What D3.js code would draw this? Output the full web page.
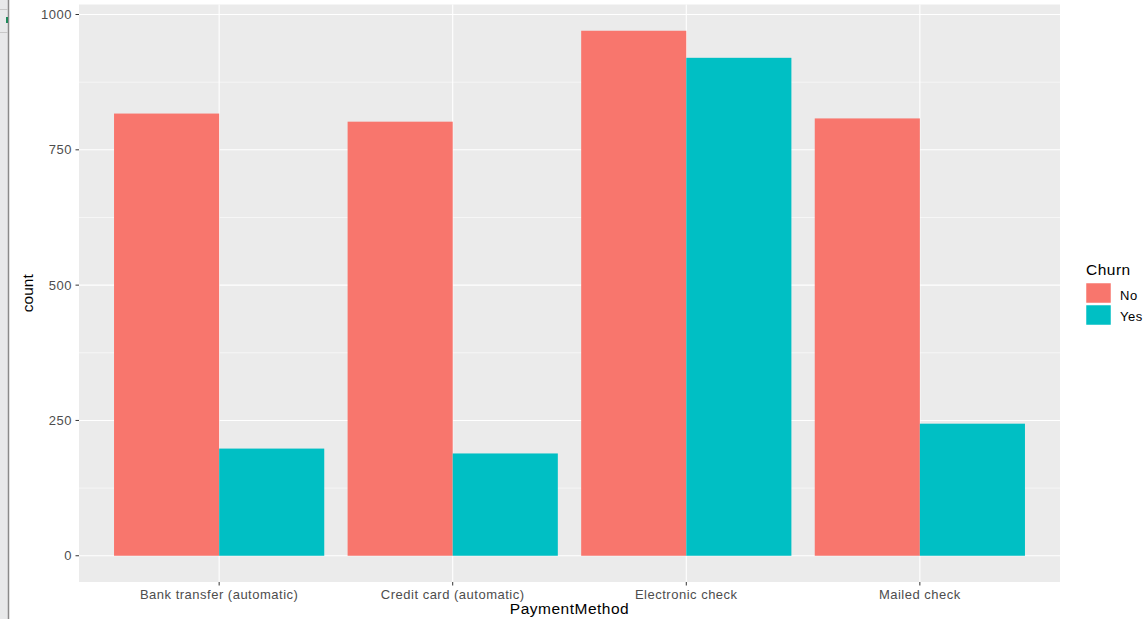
<!DOCTYPE html>
<html><head><meta charset="utf-8">
<script src="https://cdn.jsdelivr.net/npm/d3@7"></script>
<style>body{margin:0;background:#fff;}svg{display:block;font-family:"Liberation Sans",Arial,sans-serif;}</style>
</head><body>
<svg id="c" width="1147" height="619"></svg>
<script>
const categories = ["Bank transfer (automatic)", "Credit card (automatic)", "Electronic check", "Mailed check"];
const churnLevels = ["No", "Yes"];
const valuesNo = [817, 802, 970, 808];
const valuesYes = [198, 189, 920, 244];
const yTicks = [0, 250, 500, 750, 1000];
const yMinor = [125, 375, 625, 875];
const colors = ["#F8766D", "#00BFC4"];

const svg = d3.select("#c");
// left screenshot artifact
svg.append("rect").attr("x",0).attr("y",0).attr("width",8).attr("height",619).attr("fill","#e8e9ea");
svg.append("line").attr("x1",8.5).attr("x2",8.5).attr("y1",0).attr("y2",619).attr("stroke","#8a8a8a").attr("stroke-width",1.5);
svg.append("line").attr("x1",0).attr("x2",8).attr("y1",9.5).attr("y2",9.5).attr("stroke","#c8c8c8");
svg.append("line").attr("x1",0).attr("x2",8).attr("y1",32.5).attr("y2",32.5).attr("stroke","#c8c8c8");
svg.append("rect").attr("x",6).attr("y",17).attr("width",2).attr("height",6).attr("fill","#1e8a5a");

const L=79, R=1060, T=4.5, B=582;
const maxV = d3.max([...valuesNo, ...valuesYes]);
const y = d3.scaleLinear().domain([-0.05*maxV, maxV*1.05]).range([B, T]);
// ggplot: discrete expansion 0.6; bar width 0.9 of step
const step = (R-L)/(categories.length - 1 + 1.2);
const xc = c => L + step*(0.6 + categories.indexOf(c));
const bw = step*0.9;
const xs = d3.scaleBand().domain(churnLevels).range([-bw/2, bw/2]);

svg.append("rect").attr("x",L).attr("y",T).attr("width",R-L).attr("height",B-T).attr("fill","#EBEBEB");
const g = svg.append("g");
yMinor.forEach(v=>g.append("line").attr("x1",L).attr("x2",R).attr("y1",y(v)).attr("y2",y(v)).attr("stroke","#fff").attr("stroke-width",0.55));
yTicks.forEach(v=>g.append("line").attr("x1",L).attr("x2",R).attr("y1",y(v)).attr("y2",y(v)).attr("stroke","#fff").attr("stroke-width",1.1));
categories.forEach(c=>g.append("line").attr("x1",xc(c)).attr("x2",xc(c)).attr("y1",T).attr("y2",B).attr("stroke","#fff").attr("stroke-width",1.1));

const data = [];
categories.forEach((c,i)=>{ data.push({c, k:"No", v:valuesNo[i]}); data.push({c, k:"Yes", v:valuesYes[i]}); });
svg.selectAll("rect.bar").data(data).join("rect").attr("class","bar")
  .attr("x", d=>xc(d.c)+xs(d.k)).attr("width", xs.bandwidth())
  .attr("y", d=>y(d.v)).attr("height", d=>y(0)-y(d.v))
  .attr("fill", d=>colors[churnLevels.indexOf(d.k)]);

const LS = "0.5px";
// y axis
const ya = svg.append("g");
yTicks.forEach(v=>{
  ya.append("line").attr("x1",L-3.5).attr("x2",L).attr("y1",y(v)).attr("y2",y(v)).attr("stroke","#333").attr("stroke-width",1);
  ya.append("text").attr("x",L-7).attr("y",y(v)).attr("dy","0.35em").attr("text-anchor","end").attr("font-size",13).attr("letter-spacing",LS).attr("fill","#4D4D4D").text(v);
});
// x axis
categories.forEach(c=>{
  svg.append("line").attr("x1",xc(c)).attr("x2",xc(c)).attr("y1",B).attr("y2",B+3.5).attr("stroke","#333");
  svg.append("text").attr("x",xc(c)).attr("y",B+17).attr("text-anchor","middle").attr("font-size",13).attr("letter-spacing",LS).attr("fill","#4D4D4D").text(c);
});
svg.append("text").attr("x",(L+R)/2).attr("y",614).attr("text-anchor","middle").attr("font-size",15.5).attr("letter-spacing",LS).attr("fill","#000").text("PaymentMethod");
svg.append("text").attr("transform",`translate(33,${(T+B)/2}) rotate(-90)`).attr("text-anchor","middle").attr("font-size",15.5).attr("fill","#000").text("count");

// legend
const lg = svg.append("g");
lg.append("text").attr("x",1086).attr("y",275).attr("font-size",15.5).attr("letter-spacing",LS).attr("fill","#000").text("Churn");
churnLevels.forEach((k,i)=>{
  lg.append("rect").attr("x",1086).attr("y",283+i*22).attr("width",25).attr("height",20).attr("fill",colors[i]).attr("stroke","#fff").attr("stroke-width",0.5);
  lg.append("text").attr("x",1120).attr("y",295+i*21.5).attr("dy","0.35em").attr("font-size",13).attr("letter-spacing",LS).attr("fill","#000").text(k);
});
</script>
</body></html>
